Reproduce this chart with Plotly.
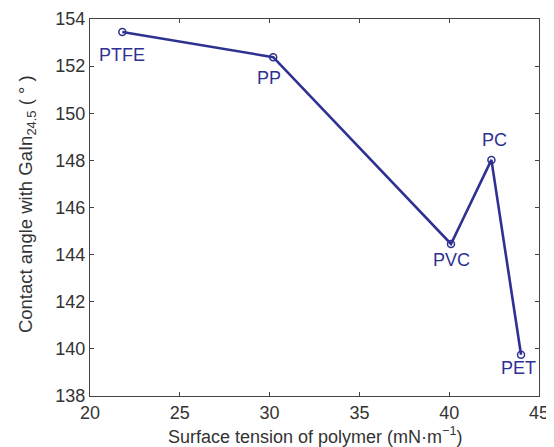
import plotly.graph_objects as go

polymers = ["PTFE", "PP", "PVC", "PC", "PET"]
surface_tension = [21.8, 30.2, 40.1, 42.35, 44.0]
contact_angle = [153.45, 152.38, 144.45, 148.02, 139.75]
label_shift = [(0, -23), (-4, -21), (0, -16), (3, 20), (-3, -13)]

x_ticks = [20, 25, 30, 35, 40, 45]
y_ticks = [138, 140, 142, 144, 146, 148, 150, 152, 154]

blue = "#2e3192"
text_color = "#333"
font_family = "Liberation Sans, Arial"
fig = go.Figure()
fig.add_trace(go.Scatter(
    x=surface_tension, y=contact_angle, mode="lines+markers",
    line=dict(color=blue, width=2.6),
    marker=dict(symbol="circle-open", size=7, color=blue, line=dict(width=1.5)),
    showlegend=False, cliponaxis=False,
))
for name, xv, yv, (dx, dy) in zip(polymers, surface_tension, contact_angle, label_shift):
    fig.add_annotation(x=xv, y=yv, text=name, showarrow=False, xshift=dx, yshift=dy,
                       font=dict(color=blue, size=18, family=font_family))

fig.add_annotation(xref="paper", yref="paper", x=0.5, y=-0.106, xanchor="center", yanchor="middle",
                   text="Surface tension of polymer (mN·m<sup>−1</sup>)", showarrow=False,
                   font=dict(size=18, color=text_color, family=font_family))
fig.add_annotation(xref="paper", yref="paper", x=-0.139, y=0.508, xanchor="center", yanchor="middle",
                   text="Contact angle with GaIn<sub>24.5</sub> ( ° )", showarrow=False, textangle=-90,
                   font=dict(size=18.5, color=text_color, family=font_family))

axis_common = dict(showline=True, linecolor="#444", linewidth=1.2, mirror="ticks",
                   ticks="inside", ticklen=4, tickcolor="#444", showgrid=False,
                   zeroline=False, automargin=False,
                   tickfont=dict(size=18, color=text_color, family=font_family))
fig.update_xaxes(range=[20, 45], tickvals=x_ticks, **axis_common)
fig.update_yaxes(range=[138, 154], tickvals=y_ticks, **axis_common)
fig.update_layout(width=554, height=439, margin=dict(l=82, r=23, t=11, b=51),
                  plot_bgcolor="white", paper_bgcolor="white")
fig.write_html("out.html")
